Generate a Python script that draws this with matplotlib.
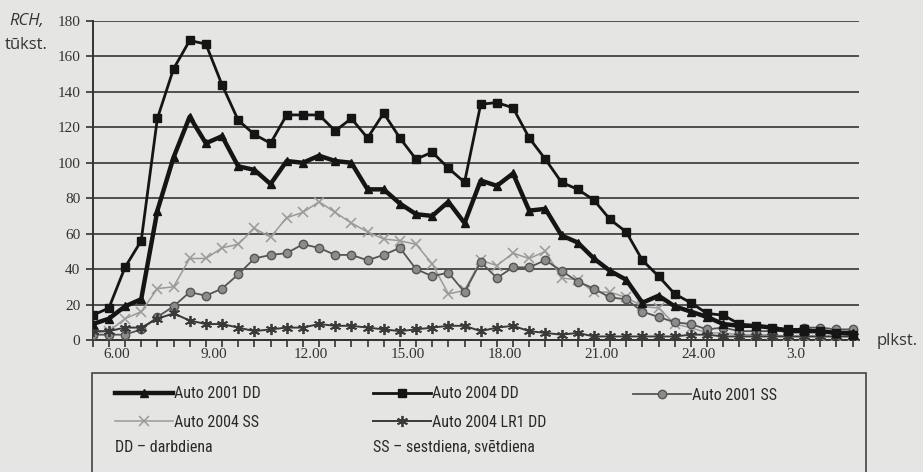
import numpy as np
import matplotlib
matplotlib.use("Agg")
import matplotlib.pyplot as plt
from matplotlib.patches import Rectangle

# Half-hour counting slots from 5.00 to 5.00 next day; points sit at slot midpoints
slot_start = np.arange(5.0, 29.0, 0.5)
slot_mid = slot_start + 0.25

hour_ticks = [6, 9, 12, 15, 18, 21, 24, 27]
hour_labels = ["6.00", "9.00", "12.00", "15.00", "18.00", "21.00", "24.00", "3.0"]

y_ticks = list(range(0, 181, 20))

# Traffic intensity, thousand vehicles per half hour
auto_2001_dd = [9, 12, 19, 23, 73, 103, 126, 111, 115, 98, 96, 88, 101, 100, 104, 101,
                100, 85, 85, 77, 71, 70, 78, 66, 90, 87, 94, 73, 74, 59, 55, 46,
                39, 34, 21, 25, 19, 16, 13, 9, 8, 8, 7, 5, 5, 5, 4, 4]
auto_2004_dd = [14, 18, 41, 56, 125, 153, 169, 167, 144, 124, 116, 111, 127, 127, 127, 118,
                125, 114, 128, 114, 102, 106, 97, 89, 133, 134, 131, 114, 102, 89, 85, 79,
                68, 61, 45, 36, 26, 21, 15, 14, 9, 8, 7, 6, 6, 5, 4, 3]
auto_2001_ss = [3, 3, 3, 6, 13, 19, 27, 25, 29, 37, 46, 48, 49, 54, 52, 48,
                48, 45, 48, 52, 40, 36, 38, 27, 44, 35, 41, 41, 45, 39, 33, 29,
                24, 23, 16, 13, 10, 9, 6, 7, 5, 5, 5, 5, 7, 7, 6, 6]
auto_2004_ss = [4, 5, 12, 16, 29, 30, 46, 46, 52, 54, 63, 58, 69, 72, 78, 72,
                66, 61, 57, 56, 54, 43, 26, 28, 45, 42, 49, 46, 50, 35, 34, 27,
                27, 24, 19, 18, 9, 7, 4, 4, 3, 3, 3, 2, 2, 2, 2, 2]
auto_2004_lr1_dd = [5, 5, 7, 7, 12, 15, 11, 9, 9, 7, 5, 6, 7, 7, 9, 8,
                    8, 7, 6, 5, 6, 7, 8, 8, 5, 7, 8, 5, 4, 3, 4, 2,
                    2, 2, 2, 2, 2, 3, 3, 2, 2, 2, 2, 2, 2, 2, 2, 2]

BG = "#e5e5e3"
GRID = "#4e4e4e"
SERIF = ["Liberation Serif", "DejaVu Serif"]
SANS = ["Open Sans", "Liberation Sans", "DejaVu Sans"]
NARROW = ["Roboto Condensed", "Liberation Sans Narrow", "Roboto", "DejaVu Sans"]

fig = plt.figure(figsize=(9.23, 4.72), dpi=100, facecolor=BG)
ax = fig.add_axes([92.7 / 923, 1 - 340 / 472, (859 - 92.7) / 923, (340 - 21) / 472])
ax.set_facecolor(BG)

ax.set_xlim(slot_mid[0], 28.95)
ax.set_ylim(0, 180)

ax.set_yticks(y_ticks)
ax.set_yticklabels([str(v) for v in y_ticks], family=SERIF, fontsize=11, color="#333333")
ax.yaxis.grid(True, color=GRID, linewidth=1.4)
ax.set_axisbelow(True)

ax.set_xticks(hour_ticks)
ax.set_xticklabels(hour_labels, family=SERIF, fontsize=11, color="#333333")
ax.set_xticks(slot_mid, minor=True)
ax.tick_params(axis="x", which="major", length=0, pad=6)
ax.tick_params(axis="x", which="minor", length=5, width=1.2, color="#333333", direction="out")
ax.tick_params(axis="y", length=5, width=1.2, color="#333333", pad=4)

for side in ("top", "right"):
    ax.spines[side].set_visible(False)
for side in ("left", "bottom"):
    ax.spines[side].set_color("#333333")
    ax.spines[side].set_linewidth(1.4)

h_2004_ss, = ax.plot(slot_mid, auto_2004_ss, color="#9a9a9a", lw=1.1, marker="x",
                     ms=7, mew=1.1, mec="#9a9a9a", label="Auto 2004 SS", zorder=3)
h_2001_ss, = ax.plot(slot_mid, auto_2001_ss, color="#555555", lw=1.3, marker="o",
                     ms=6, mfc="#8c8c8c", mec="#555555", mew=1.0, label="Auto 2001 SS", zorder=4)
h_lr1, = ax.plot(slot_mid, auto_2004_lr1_dd, color="#3a3a3a", lw=1.4, marker=(6, 2, 0),
                 ms=8, mew=1.3, mec="#3a3a3a", label="Auto 2004 LR1 DD", zorder=4)
h_2004_dd, = ax.plot(slot_mid, auto_2004_dd, color="#151515", lw=2.0, marker="s",
                     ms=5.5, mfc="#151515", mec="#151515", label="Auto 2004 DD", zorder=5)
h_2001_dd, = ax.plot(slot_mid, auto_2001_dd, color="#151515", lw=3.2, marker="^",
                     ms=6, mfc="#151515", mec="#151515", label="Auto 2001 DD", zorder=6)

# Axis captions
fig.text(9 / 923, 1 - 21 / 472, "RCH,", family=SANS, style="italic", fontsize=12,
         color="#333333", va="center", ha="left")
fig.text(5 / 923, 1 - 45 / 472, "tūkst.", family=SANS, fontsize=12,
         color="#333333", va="center", ha="left")
fig.text(877 / 923, 1 - 341 / 472, "plkst.", family=SANS, fontsize=12,
         color="#333333", va="center", ha="left")

# Legend panel
fig.patches.append(Rectangle((92 / 923, -0.05), (866 - 92) / 923, 0.05 + 1 - 373 / 472,
                             transform=fig.transFigure, facecolor="none",
                             edgecolor="#444444", linewidth=1.2))

leg_kw = dict(frameon=False, borderpad=0, borderaxespad=0, handlelength=3.6,
              handletextpad=0.1, labelspacing=0.85, loc="center left",
              prop={"family": NARROW, "size": 11.5}, labelcolor="#2a2a2a")
mid_two_rows = 1 - 408 / 472
fig.legend(handles=[h_2001_dd, h_2004_ss], bbox_to_anchor=(115 / 923, mid_two_rows), **leg_kw)
fig.legend(handles=[h_2004_dd, h_lr1], bbox_to_anchor=(373 / 923, mid_two_rows), **leg_kw)
fig.legend(handles=[h_2001_ss], bbox_to_anchor=(633 / 923, 1 - 395 / 472), **leg_kw)

fig.text(115 / 923, 1 - 447 / 472, "DD – darbdiena", family=NARROW, fontsize=11.5,
         color="#2a2a2a", va="center", ha="left")
fig.text(373 / 923, 1 - 447 / 472, "SS – sestdiena, svētdiena", family=NARROW, fontsize=11.5,
         color="#2a2a2a", va="center", ha="left")

fig.savefig("out.png", dpi=100, facecolor=BG)
